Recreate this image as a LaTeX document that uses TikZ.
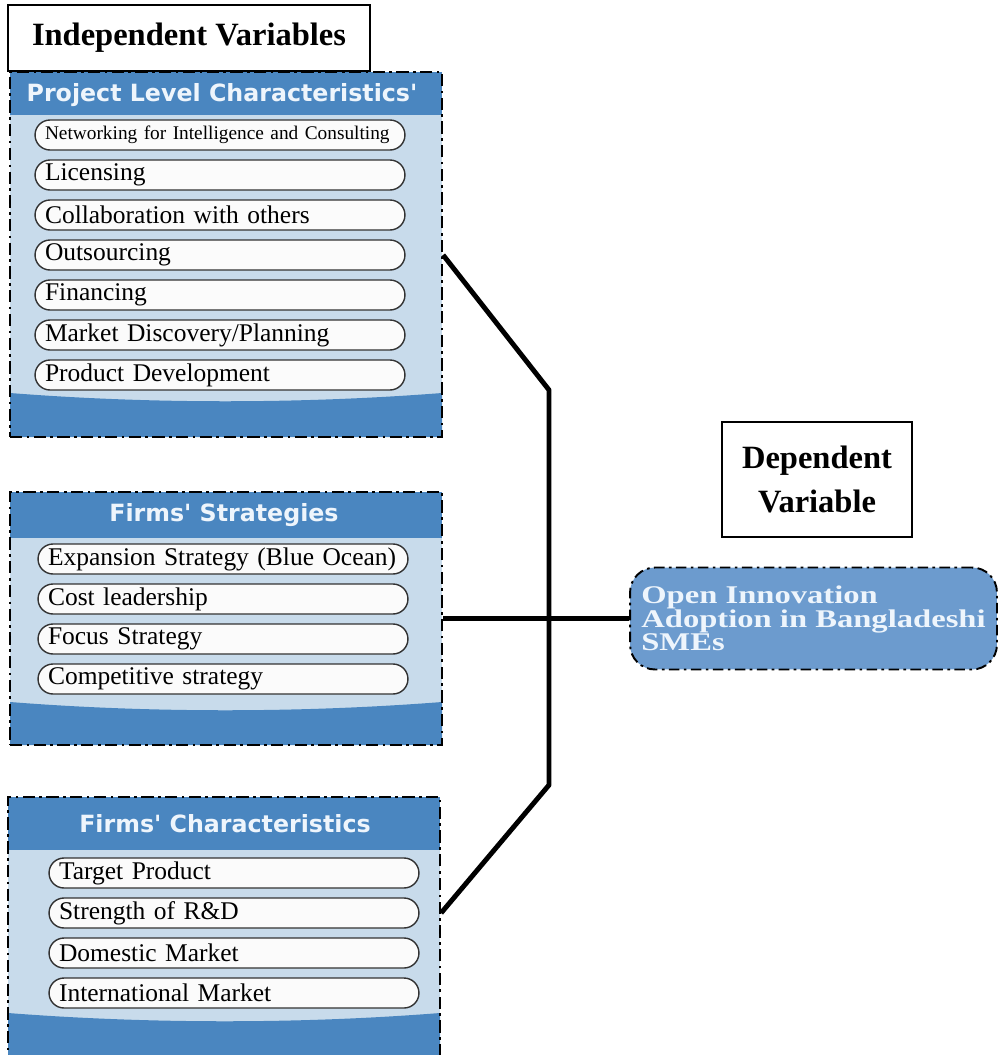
\documentclass[tikz,border=0pt]{standalone}
\usepackage{fontspec}
\setmainfont{Liberation Serif}
\newfontfamily\headfont{DejaVu Sans}
\newfontfamily\wideserif[FakeStretch=1.28]{Liberation Serif}
\usepackage{xcolor}
\definecolor{oiblue}{RGB}{74, 134, 192}
\definecolor{oilight}{RGB}{200, 219, 235}
\definecolor{oimid}{RGB}{108, 155, 206}
\definecolor{oitext}{RGB}{238, 245, 252}
\usetikzlibrary{positioning, calc}

\begin{document}
\begin{tikzpicture}[x=0.02cm, y=-0.02cm,
    panel/.style={rectangle, draw=black, line width=1.3pt, dash pattern=on 7pt off 2.5pt on 1.5pt off 2.5pt, minimum width=8.64cm},
    pill/.style={rectangle, draw=black!80, line width=0.8pt, fill=gray!3, rounded corners=0.3cm, minimum height=0.6cm, text width=7cm, inner xsep=0.2cm, inner ysep=0pt, align=left, font=\fontsize{14.5}{16}\selectfont},
    head/.style={font=\headfont\bfseries\fontsize{13.5}{15}\selectfont, text=oitext},
    varbox/.style={rectangle, draw=black, line width=0.8pt, font=\bfseries\fontsize{18.5}{25}\selectfont, align=center},
    link/.style={line width=2.8pt, line join=round}
]
\useasboundingbox (0,0) rectangle (998,1055);

% === Independent Variables ===
\node[varbox, minimum width=7.24cm, minimum height=1.32cm] (indep) at (189,38) {Independent Variables};

% === Project Level Characteristics' ===
\fill[oilight] (10,72) rectangle (442,437);
\fill[oiblue] (10,72) rectangle (442,115);
\fill[oiblue] (10,437) -- (10,393) .. controls (150,404) and (300,404) .. (442,393) -- (442,437) -- cycle;
\node[panel, minimum height=7.3cm] (pl) at (226,254.5) {};
\node[head] (plt) at (222,95) {Project Level Characteristics'};
\node[pill, font=\fontsize{11}{12}\selectfont] (pc1) at (220,135) {Networking for Intelligence and Consulting};
\foreach \t [count=\i from 2] in {Licensing, Collaboration with others, Outsourcing, Financing, Market Discovery/Planning, Product Development} {
    \node[pill] (pc\i) at (220, {135+40*(\i-1)}) {\t};
}

% === Firms' Strategies ===
\fill[oilight] (10,492) rectangle (442,745);
\fill[oiblue] (10,492) rectangle (442,538);
\fill[oiblue] (10,745) -- (10,702) .. controls (150,713) and (300,713) .. (442,702) -- (442,745) -- cycle;
\node[panel, minimum height=5.06cm] (fs) at (226,618.5) {};
\node[head] (fst) at (224,515) {Firms' Strategies};
\foreach \t [count=\i] in {Expansion Strategy (Blue Ocean), Cost leadership, Focus Strategy, Competitive strategy} {
    \node[pill] (fs\i) at (223, {559+40*(\i-1)}) {\t};
}

% === Firms' Characteristics ===
\fill[oilight] (8,797) rectangle (440,1075);
\fill[oiblue] (8,797) rectangle (440,850);
\fill[oiblue] (8,1075) -- (8,1013) .. controls (150,1024) and (300,1024) .. (440,1013) -- (440,1075) -- cycle;
\node[panel, minimum height=5.56cm] (fc) at (224,936) {};
\node[head] (fct) at (225,824) {Firms' Characteristics};
\foreach \t [count=\i] in {Target Product, Strength of R\&D, Domestic Market, International Market} {
    \node[pill] (fc\i) at (234, {873+40*(\i-1)}) {\t};
}

% === Dependent Variable ===
\node[varbox, minimum width=3.8cm, minimum height=2.3cm] (dep) at (817,479.5) {Dependent\\Variable};
\node[rectangle, rounded corners=0.5cm, fill=oimid, draw=black, line width=1.1pt, dash pattern=on 6pt off 2.5pt on 1.5pt off 2.5pt,
      minimum width=7.34cm, minimum height=2.04cm, align=left,
      text=oitext, font=\wideserif\bfseries\fontsize{14.5}{13.4}\selectfont] (oi) at (813.5,618.5)
      {Open Innovation\\Adoption in Bangladeshi\\SMEs};

% === Connectors ===
\coordinate (jtop) at (549,390);
\coordinate (jbot) at (549,785);
\draw[link] (pl.east |- pc4) -- (jtop) -- (jbot) -- (fc.east |- fc2);
\draw[link] (fs.east) -- (oi.west);

\end{tikzpicture}
\end{document}
